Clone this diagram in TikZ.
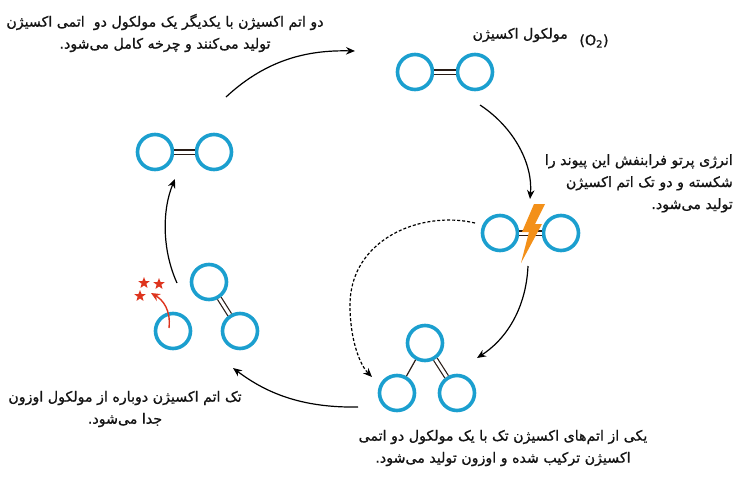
\documentclass[tikz,border=0pt]{standalone}
\usepackage{fontspec}
\TeXXeTstate=1
\newfontfamily\arabicfont[Script=Arabic,FakeBold=0.9]{DejaVu Sans}
\newfontfamily\latinsans[FakeBold=0.9]{DejaVu Sans}
\usetikzlibrary{arrows.meta,shapes.geometric}
\newcommand{\fa}[1]{{\arabicfont\beginR #1\endR}}
\definecolor{atomblue}{RGB}{27,159,207}
\definecolor{bondc}{RGB}{40,28,22}
\definecolor{boltc}{RGB}{243,144,25}
\definecolor{starred}{RGB}{222,52,30}
\definecolor{txt}{RGB}{20,20,20}
\begin{document}
\begin{tikzpicture}[x=1pt,y=-1pt,
 atom/.style={circle,draw=atomblue,line width=3.6pt,minimum size=35pt,inner sep=0pt},
 sbond/.style={draw=bondc,line width=1.2pt},
 dbond/.style={draw=bondc,double=white,double distance=3pt,line width=1.2pt},
 flow/.style={draw=black,line width=1.2pt,-{Stealth[length=9pt,width=7.5pt]}},
 txtlabel/.style={text=txt,font=\fontsize{14.2}{22}\selectfont,inner sep=0pt},
 redstar/.style={star,star points=5,star point ratio=2.4,fill=starred,minimum size=12pt,inner sep=0pt}
]
\useasboundingbox (0,0) rectangle (750,488);
\fill[white] (0,0) rectangle (750,488);

% molecules
\node[atom] (a1) at (415,72) {};
\node[atom] (a2) at (475,72) {};
\node[atom] (b1) at (500,233) {};
\node[atom] (b2) at (561,233) {};
\node[atom] (c1) at (155,152) {};
\node[atom] (c2) at (214,152) {};
\node[atom] (o1) at (425,343) {};
\node[atom] (o2) at (397,393) {};
\node[atom] (o3) at (457,393) {};
\node[atom] (d1) at (209,282) {};
\node[atom] (d2) at (240,331) {};
\node[atom] (e) at (173,331) {};

\draw[dbond] (a1) -- (a2);
\draw[dbond] (b1) -- (b2);
\draw[dbond] (c1) -- (c2);
\draw[sbond] (o1) -- (o2);
\draw[dbond] (o1) -- (o3);
\draw[dbond] (d1) -- (d2);

% lightning bolt
\fill[boltc] (534,204) -- (545,204) -- (535,224) -- (542,224) -- (521,263) -- (529,232) -- (522,232) -- cycle;

% stars and red arrow
\node[redstar] (s1) at (144,283) {};
\node[redstar] (s2) at (159,284) {};
\node[redstar] (s3) at (140,296) {};
\coordinate (ra) at (169,328);
\coordinate (rb) at (151,293);
\draw[draw=starred,line width=1.4pt,-{Stealth[length=9pt,width=8pt]}] (ra) .. controls (171,310) and (163,300) .. (rb);

% flow arrows
\coordinate (p1s) at (226,97);
\coordinate (p1e) at (355,51);
\draw[flow] (p1s) .. controls (268,58) and (310,50) .. (p1e);
\coordinate (p2s) at (480,105);
\coordinate (p2e) at (530,199);
\draw[flow] (p2s) .. controls (515,128) and (533,165) .. (p2e);
\coordinate (p3s) at (528,266);
\coordinate (p3e) at (477,358);
\draw[flow] (p3s) .. controls (526,310) and (505,340) .. (p3e);
\coordinate (p4s) at (475,223);
\coordinate (p4m) at (350,305);
\coordinate (p4e) at (372,377);
\draw[flow,dash pattern=on 3pt off 2pt] (p4s) .. controls (420,210) and (350,240) .. (p4m) .. controls (350,340) and (360,365) .. (p4e);
\coordinate (p5s) at (358,407);
\coordinate (p5e) at (233,368);
\draw[flow] (p5s) .. controls (300,408) and (265,392) .. (p5e);
\coordinate (p6s) at (177,283);
\coordinate (p6e) at (175,179);
\draw[flow] (p6s) .. controls (162,250) and (162,210) .. (p6e);

% texts
\node[txtlabel,align=center] (t1) at (165,33) {\fa{دو اتم اکسیژن با یکدیگر یک مولکول دو\ \ اتمی اکسیژن}\\\fa{تولید می‌کنند و چرخه کامل می‌شود.}};
\node[txtlabel,anchor=east] (t2) at (568,35) {\fa{مولکول اکسیژن}};
\node[txtlabel] (t2b) at (594,41) {\latinsans (O\textsubscript{2})};
\node[txtlabel,align=right,anchor=north east] (t3) at (733,154) {\fa{انرژی پرتو فرابنفش این پیوند را}\\\fa{شکسته و دو تک اتم اکسیژن}\\\fa{تولید می‌شود.}};
\node[txtlabel,align=center] (t4) at (503,448) {\fa{یکی از اتم‌های اکسیژن تک با یک مولکول دو اتمی}\\\fa{اکسیژن ترکیب شده و اوزون تولید می‌شود.}};
\node[txtlabel,align=center] (t5) at (125,409) {\fa{تک اتم اکسیژن دوباره از مولکول اوزون}\\\fa{جدا می‌شود.}};
\end{tikzpicture}
\end{document}
